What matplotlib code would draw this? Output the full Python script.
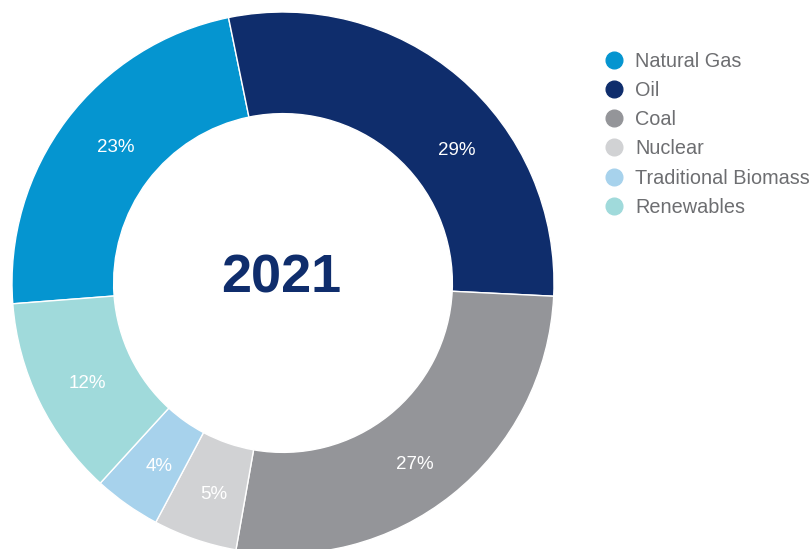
import numpy as np
import matplotlib.pyplot as plt
from matplotlib.lines import Line2D

plt.rcParams['font.family'] = ['Liberation Sans', 'DejaVu Sans']

# Anteile am Primärenergieverbrauch 2021 (%)
quellen = ['Natural Gas', 'Oil', 'Coal', 'Nuclear', 'Traditional Biomass', 'Renewables']
anteile = [23, 29, 27, 5, 4, 12]
farben = ['#0595d0', '#0f2d6c', '#949599', '#d1d2d4', '#a7d2ec', '#a0dadb']
jahr = '2021'

W, H = 812, 549
fig = plt.figure(figsize=(W / 100, H / 100), dpi=100)

# Ring: Mitte (283, 283) px, Radius 271 px
cx, cy, R = 283, 283, 271
ax = fig.add_axes([(cx - R) / W, (H - cy - R) / H, 2 * R / W, 2 * R / H])

wedges, _ = ax.pie(anteile, colors=farben, startangle=184.4, counterclock=False,
                   radius=1.0, wedgeprops=dict(width=0.375, edgecolor='white', linewidth=1.0))
ax.set_xlim(-1, 1)
ax.set_ylim(-1, 1)
ax.set_aspect('equal')
ax.axis('off')

# Prozentwerte im Ring (Oil-Beschriftung etwas nach rechts versetzt)
winkel_offset = {'Oil': -11, 'Coal': -2.5, 'Natural Gas': -2.5}
for w, name, val in zip(wedges, quellen, anteile):
    mitte = (w.theta1 + w.theta2) / 2 + winkel_offset.get(name, 0)
    r = 0.81
    ax.text(r * np.cos(np.radians(mitte)) + 0.008, r * np.sin(np.radians(mitte)) - 0.016, f'{val}%',
            ha='center', va='center', color='white', fontsize=13.5)

ax.text(-0.005, 0.018, jahr, ha='center', va='center', fontsize=39, fontweight='bold', color='#0f2d6c')

# Legende mit runden Markern
handles = [Line2D([], [], marker='o', linestyle='none', markersize=12,
                  markerfacecolor=c, markeredgecolor=c) for c in farben]
fig.legend(handles, quellen, loc='upper left', bbox_to_anchor=(603.6 / W, 1 - 52 / H),
           frameon=False, fontsize=14.3, labelcolor='#6d6e71', handlelength=1.0,
           handletextpad=0.58, labelspacing=0.51, borderpad=0, borderaxespad=0)

fig.savefig('out.png', dpi=100)
